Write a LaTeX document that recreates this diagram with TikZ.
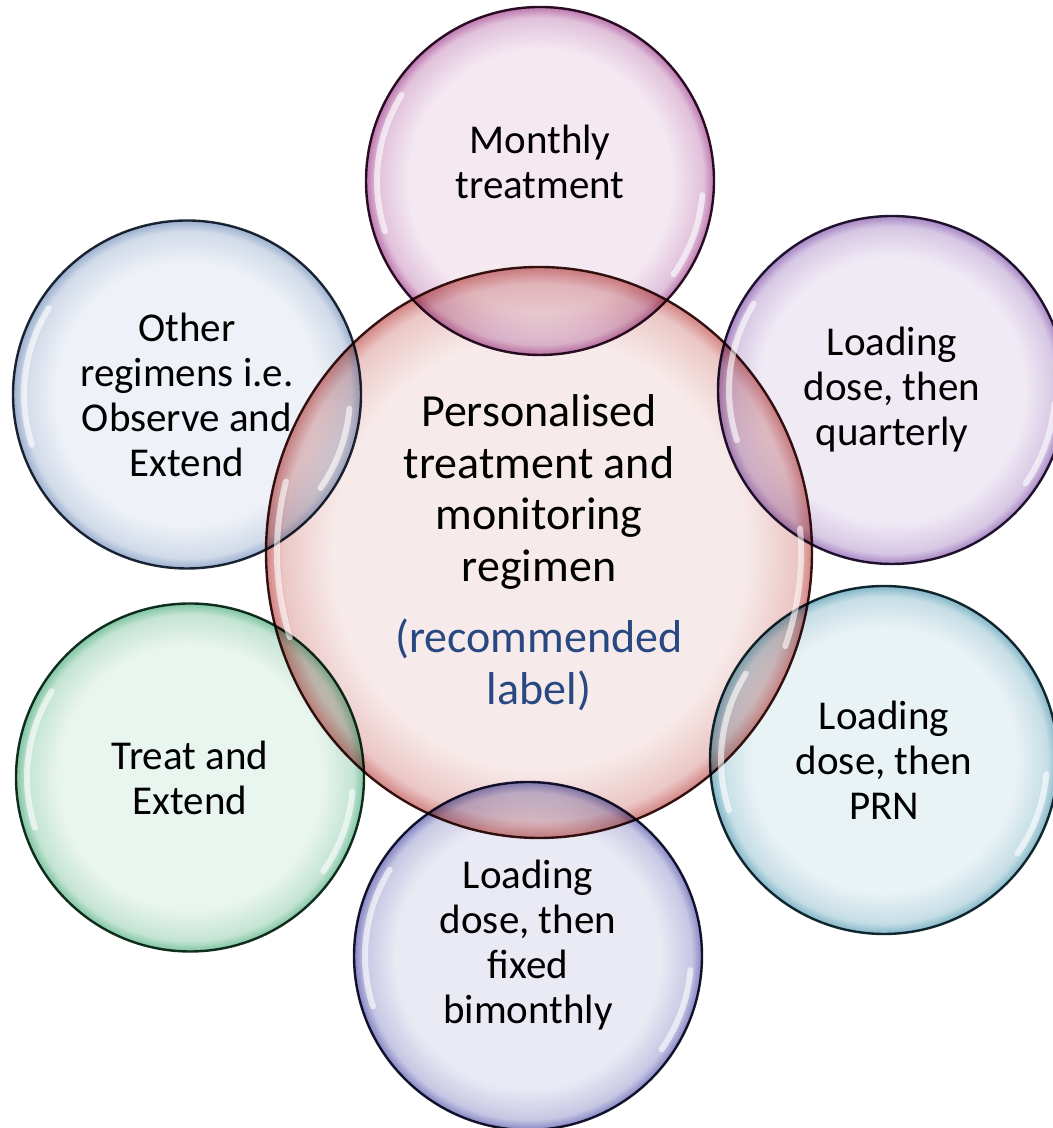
\documentclass[tikz,border=0pt]{standalone}
\usepackage{fontspec}
\setmainfont{Carlito}
\usetikzlibrary{shapes.geometric}

\definecolor{regred}{RGB}{192,80,77}
\definecolor{regmagenta}{RGB}{160,60,140}
\definecolor{regpurple}{RGB}{128,80,170}
\definecolor{regteal}{RGB}{75,150,175}
\definecolor{regblue}{RGB}{80,80,170}
\definecolor{reggreen}{RGB}{70,170,120}
\definecolor{regsteel}{RGB}{110,140,185}
\definecolor{labelblue}{RGB}{41,79,140}

% glassy bubble: pale inside, darker towards the rim (path edge sits at 25bp)
\colorlet{bubin}{white}\colorlet{bubmid}{white}\colorlet{bubrim}{white}
\pgfdeclareradialshading[bubin,bubmid,bubrim]{bubble}{\pgfpoint{0bp}{0bp}}{%
  color(0bp)=(bubin); color(19bp)=(bubin); color(23.5bp)=(bubmid); color(25bp)=(bubrim); color(50bp)=(bubrim)}

\begin{document}
\begin{tikzpicture}[x=0.5pt,y=0.5pt,
    bubble/.style={circle, minimum size=174pt, inner sep=0pt, align=center,
      font=\fontsize{20.5}{22.5}\selectfont, line width=1.2pt, draw=#1!30!black,
      /utils/exec={\colorlet{bubin}{#1!12}\colorlet{bubmid}{#1!32}\colorlet{bubrim}{#1!70}},
      shade, shading=bubble, blend mode=multiply},
    gloss/.style={white, line width=3pt, line cap=round, opacity=.6}]

\useasboundingbox (0,0) rectangle (1053,1128);

\node[bubble=regred, ellipse, minimum width=273pt, minimum height=285.5pt,
  font=\fontsize{23}{25.75}\selectfont] (ctr) at (539,575.5)
  {Personalised\\treatment and\\monitoring\\regimen\\[10pt]
   \textcolor{labelblue}{(recommended}\\\textcolor{labelblue}{label)}};

\node[bubble=regmagenta, text depth=19pt] (monthly) at (540,947) {Monthly\\treatment};
\node[bubble=regpurple] (quarterly) at (892,738) {Loading\\dose, then\\quarterly};
\node[bubble=regteal] (prn) at (884,368) {Loading\\dose, then\\PRN};
\node[bubble=regblue, text depth=14pt] (bimonthly) at (528,172) {Loading\\dose, then\\fixed\\bimonthly};
\node[bubble=reggreen] (treat) at (190,350.5) {Treat and\\Extend};
\node[bubble=regsteel] (other) at (187,733.5) {Other\\regimens i.e.\\Observe and\\Extend};

% highlights
\foreach \n in {monthly,quarterly,prn,bimonthly,treat,other}{
  \draw[gloss] (\n.center) ++(148:163) arc[start angle=148, end angle=198, radius=163];
  \draw[gloss] (\n.center) ++(-35:163) arc[start angle=-35, end angle=-5, radius=163];
}
\draw[gloss] (ctr.center) ++(165:262 and 274) arc[start angle=165, end angle=198, x radius=262, y radius=274];
\draw[gloss] (ctr.center) ++(-20:262 and 274) arc[start angle=-20, end angle=5, x radius=262, y radius=274];

\end{tikzpicture}
\end{document}
